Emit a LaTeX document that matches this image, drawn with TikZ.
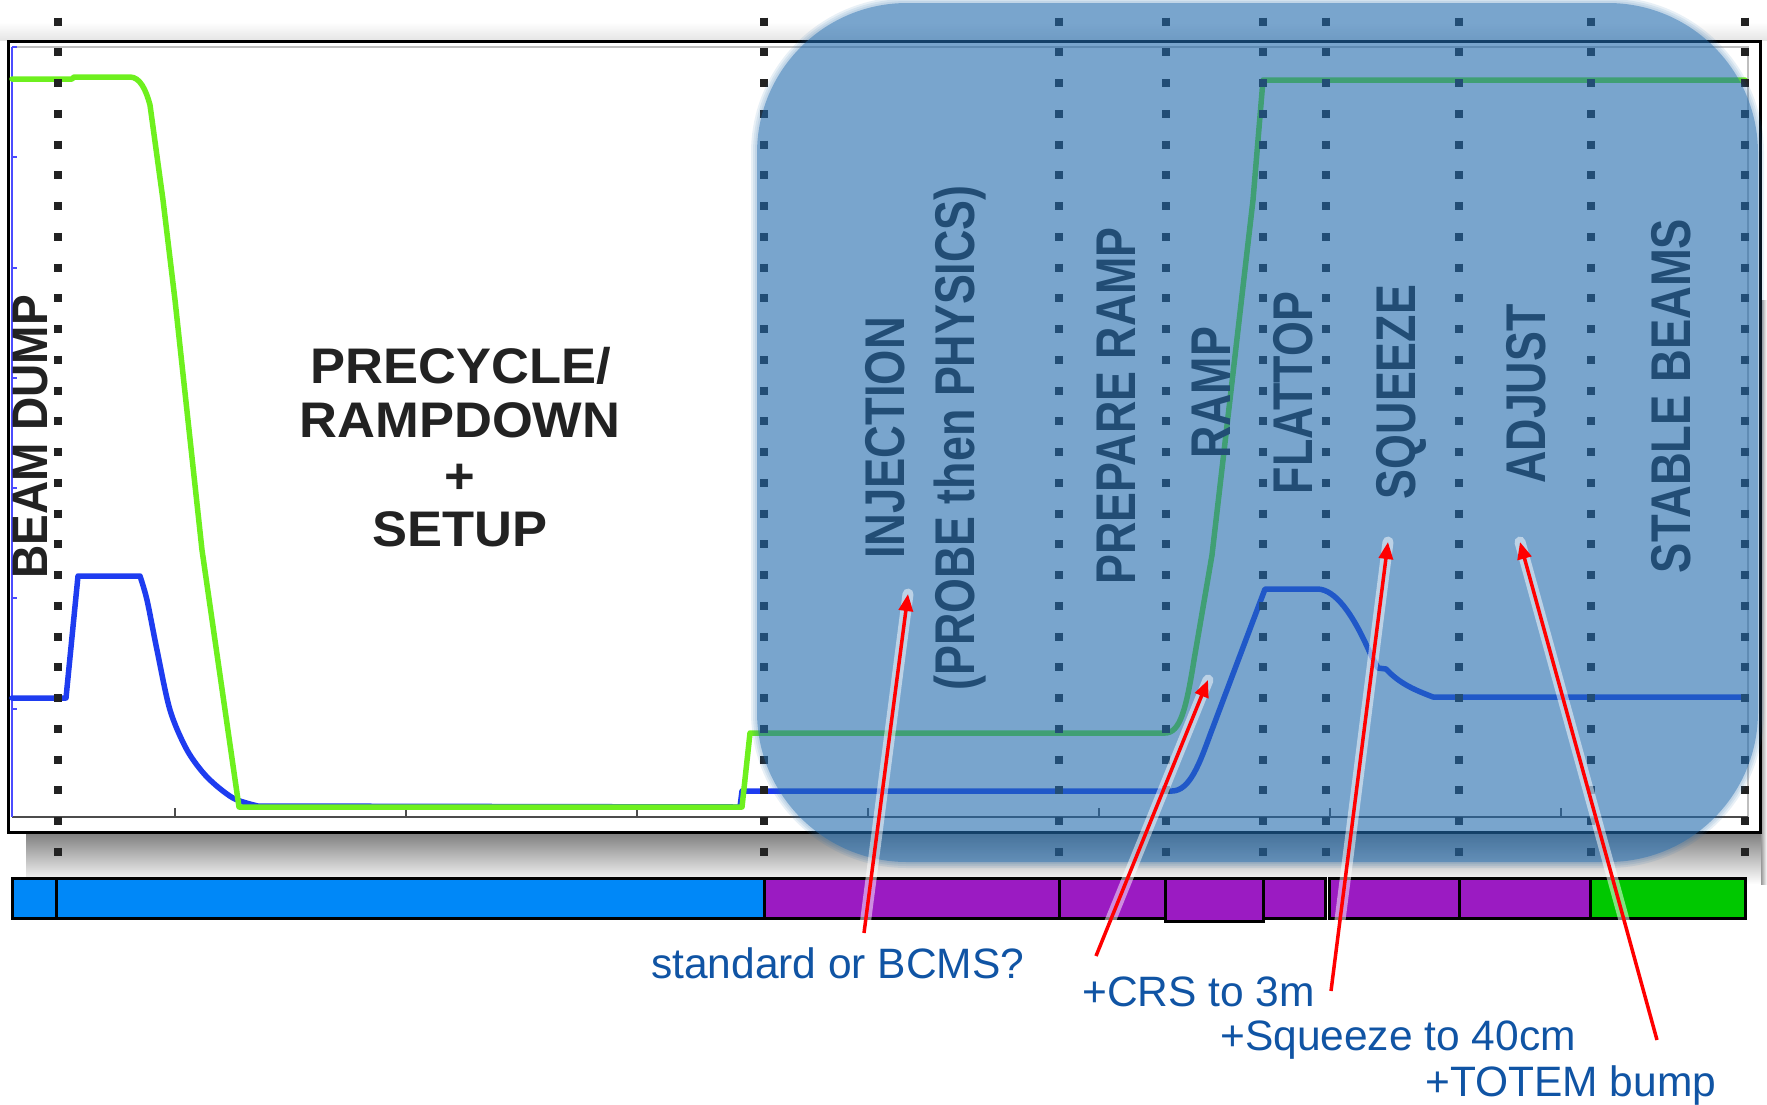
\documentclass[tikz,border=0pt]{standalone}
\usepackage{fontspec}
\setmainfont{Liberation Sans}
\usetikzlibrary{arrows.meta}
\definecolor{ovl}{RGB}{35,108,175}
\definecolor{cgreen}{RGB}{110,240,30}
\definecolor{cblue}{RGB}{30,60,240}
\definecolor{barblue}{RGB}{0,136,248}
\definecolor{barpurple}{RGB}{155,27,194}
\definecolor{bargreen}{RGB}{0,200,0}
\definecolor{lblue}{RGB}{16,84,164}
\definecolor{ink}{RGB}{34,34,34}
\begin{document}
\begin{tikzpicture}[x=1pt,y=-1pt,
  curve/.style={line width=5.5pt, line join=round, line cap=round},
  dotline/.style={line width=8pt, draw=ink, dash pattern=on 8pt off 22.75pt},
  phase/.style={inner sep=0pt, anchor=base, rotate=90, text=ink, font=\fontsize{56}{60}\selectfont\bfseries},
  bigtxt/.style={inner sep=0pt, anchor=base, text=ink, font=\fontsize{50}{54}\selectfont\bfseries},
  note/.style={inner sep=0pt, anchor=base west, text=lblue, font=\fontsize{42.5}{46}\selectfont},
  redarrow/.style={draw=red, line width=3.5pt, -{Triangle[length=17pt,width=14pt]}},
  glow/.style={draw=white, opacity=0.5, line width=11pt, line cap=round},
  seg/.style={draw=black, line width=3pt}
]
\useasboundingbox (0,0) rectangle (1767,1104);
\fill[white] (0,0) rectangle (1767,1104);
% shadows of the chart frame
\shade[top color=white, bottom color=black!10] (0,22) rectangle (1767,40);
\shade[top color=black!50, middle color=black!14, bottom color=white] (26,833) rectangle (1767,884);
\shade[left color=black!40, right color=white] (1761,300) rectangle (1767,884);
% frame
\fill[white] (8,41) rectangle (1760,832);
\draw[line width=3pt, black] (8,41) rectangle (1760,832);
\draw[black!25, line width=1.5pt] (12,47) -- (1748,47) -- (1748,817);
\draw[black!70, line width=2pt] (12,817) -- (1748,817);
\draw[blue!70, line width=1.5pt] (12,47) -- (12,817);
\foreach \x in {175,406,637,868,1099,1330,1561}
  \draw[black!70, line width=1.5pt] (\x,817) -- (\x,808);
\foreach \y in {47,157,268,378,488,598,709}
  \draw[blue!70, line width=1.2pt] (12,\y) -- (17,\y);
% blue curve
\draw[curve, cblue] (12,698) -- (66,698) -- (78,576) -- (140,576)
  plot[smooth, tension=0.5] coordinates {(140,576) (147,600) (157,650) (170,710) (187,750) (207,777) (233,798) (258,806)}
  -- (740,807) -- (742,791) -- (1172,791)
  .. controls (1190,791) and (1200,762) .. (1210,735) -- (1265,589) -- (1318,589)
  .. controls (1335,590) and (1352,612) .. (1370,653) -- (1378,668) -- (1386,669)
  .. controls (1400,684) and (1415,690) .. (1433,697) -- (1745,697);
% green curve
\draw[curve, cgreen] (12,79) -- (72,79) -- (74,77) -- (130,77)
  .. controls (140,77) and (146,90) .. (150,105) -- (163,200) -- (175,300) -- (202,550) -- (239,807)
  -- (742,807) -- (750,733) -- (1165,733)
  .. controls (1180,733) and (1186,710) .. (1194,660) -- (1212,555) -- (1223,460) -- (1253,200) -- (1263,80) -- (1745,80);
% dotted phase separators
\foreach \x in {58,764,1059,1166,1263,1326,1459,1591,1745}
  \draw[dotline] (\x,17.7) -- (\x,862);
% texts
\node[phase, font=\fontsize{50}{54}\selectfont\bfseries] (bd) at (47,437) {\scalebox{0.92}[1]{BEAM DUMP}};
\node[bigtxt] (pc1) at (461,383) {\scalebox{1.05}[1]{PRECYCLE/}};
\node[bigtxt] (pc2) at (460,437) {\scalebox{1.05}[1]{RAMPDOWN}};
\node[bigtxt] (pc3) at (460,493) {\scalebox{1.05}[1]{+}};
\node[bigtxt] (pc4) at (460,546) {\scalebox{1.05}[1]{SETUP}};
\node[phase] (inj) at (904,438) {\scalebox{0.81}[1]{INJECTION}};
\node[phase] (inj2) at (974,438) {\scalebox{0.8}[1]{(PROBE then PHYSICS)}};
\node[phase] (prep) at (1135,406) {\scalebox{0.8}[1]{PREPARE RAMP}};
\node[phase] (ramp) at (1230,393) {\scalebox{0.8}[1]{RAMP}};
\node[phase] (flat) at (1312,393) {\scalebox{0.8}[1]{FLATTOP}};
\node[phase] (sq) at (1415,392) {\scalebox{0.8}[1]{SQUEEZE}};
\node[phase] (adj) at (1545,394) {\scalebox{0.8}[1]{ADJUST}};
\node[phase] (sb) at (1690,396) {\scalebox{0.81}[1]{STABLE BEAMS}};
% translucent beam-phase overlay with soft edge
\fill[ovl, opacity=0.1, rounded corners=156pt] (751,-3) rectangle (1764,868);
\fill[ovl, opacity=0.1, rounded corners=154pt] (753,-1) rectangle (1762,866);
\fill[ovl, opacity=0.1, rounded corners=152pt] (755,1) rectangle (1760,864);
\fill[ovl, opacity=0.45, rounded corners=150pt] (757,3) rectangle (1758,862);
% bottom mode bar
\foreach \a/\b/\c in {12/56/barblue, 56/764/barblue, 764/1059/barpurple, 1059/1165/barpurple, 1263/1325/barpurple, 1329/1459/barpurple, 1459/1590/barpurple, 1590/1745/bargreen}
  \draw[seg, fill=\c] (\a,878) rectangle (\b,918);
\draw[seg, fill=barpurple] (1165,878) rectangle (1263,921);
% notes
\node[note] (n1) at (651,978) {standard or BCMS?};
\node[note] (n2) at (1082,1006) {+CRS to 3m};
\node[note] (n3) at (1220,1050) {+Squeeze to 40cm};
\node[note] (n4) at (1425,1096) {+TOTEM bump};
% red arrows
\coordinate (a1s) at (864,933); \coordinate (a1e) at (908,594);
\coordinate (a2s) at (1096,956); \coordinate (a2e) at (1208,680);
\coordinate (a3s) at (1331,991); \coordinate (a3e) at (1388,542);
\coordinate (a4s) at (1657,1040); \coordinate (a4e) at (1520,542);
\foreach \s/\e in {a1s/a1e, a2s/a2e, a3s/a3e, a4s/a4e}{
  \draw[glow] (\s) -- (\e);
  \draw[redarrow] (\s) -- (\e);
}
\end{tikzpicture}
\end{document}
